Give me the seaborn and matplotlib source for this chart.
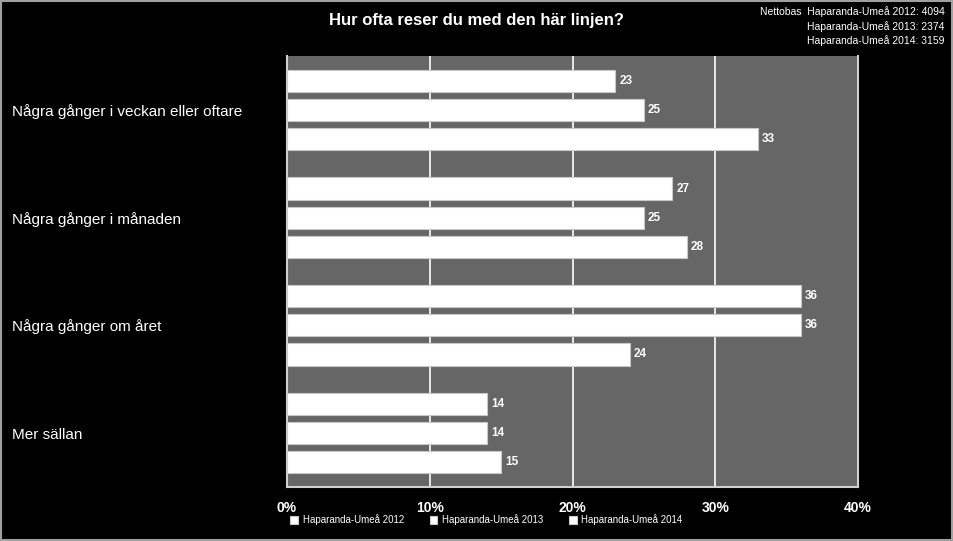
import matplotlib
matplotlib.use('Agg')
import matplotlib.pyplot as plt
import pandas as pd
import seaborn as sns
from matplotlib.patches import Rectangle

# Data
categories = ['Några gånger i veckan eller oftare', 'Några gånger i månaden',
              'Några gånger om året', 'Mer sällan']
series = ['Haparanda-Umeå 2012', 'Haparanda-Umeå 2013', 'Haparanda-Umeå 2014']
vals_2012 = [23, 27, 36, 14]
vals_2013 = [25, 25, 36, 14]
vals_2014 = [33, 28, 24, 15]
x_ticks = [0, 10, 20, 30, 40]
x_tick_labels = ['0%', '10%', '20%', '30%', '40%']
title = 'Hur ofta reser du med den här linjen?'
base_text = ('Nettobas  Haparanda-Umeå 2012: 4094\n'
             'Haparanda-Umeå 2013: 2374\n'
             'Haparanda-Umeå 2014: 3159')

df = pd.DataFrame({
    'category': categories * 3,
    'series': [s for s in series for _ in categories],
    'value': vals_2012 + vals_2013 + vals_2014,
})

sns.set_style('dark')
plt.rcParams['font.family'] = ['Liberation Sans', 'DejaVu Sans']

fig = plt.figure(figsize=(9.54, 5.41), dpi=100, facecolor='black')
ax = fig.add_axes([287 / 954, 54 / 541, 571 / 954, 431 / 541])
ax.set_facecolor('#666666')

sns.barplot(data=df, y='category', x='value', hue='series', orient='h',
            palette=['white'] * 3, width=0.81, gap=0.24,
            edgecolor='#c8c8c8', linewidth=0.8, ax=ax, zorder=3)

for c in ax.containers:
    ax.bar_label(c, fmt='%d', padding=3, color='white', fontsize=8.5,
                 fontweight='bold')

ax.set_xlim(0, 40)
ax.set_xticks(x_ticks)
ax.set_xticklabels(x_tick_labels, color='white', fontsize=10, fontweight='bold')
ax.xaxis.grid(True, color='white', linewidth=1.2, zorder=1)
ax.yaxis.grid(False)
ax.tick_params(axis='x', length=0, pad=10)
ax.tick_params(axis='y', length=0, pad=198)
for lbl in ax.get_yticklabels():
    lbl.set_ha('left')
    lbl.set_color('white')
    lbl.set_fontsize(11)
ax.set_xlabel('')
ax.set_ylabel('')
ax.spines['top'].set_visible(False)
for side in ['left', 'bottom', 'right']:
    ax.spines[side].set_visible(True)
    ax.spines[side].set_color('#d0d0d0')
    ax.spines[side].set_linewidth(1.5)

leg = ax.legend(loc='center left', bbox_to_anchor=(0.006, -0.076), ncol=3,
                frameon=False, fontsize=7, handlelength=0.8, handleheight=0.8,
                handletextpad=0.5, columnspacing=2.6, borderaxespad=0,
                borderpad=0)
for t in leg.get_texts():
    t.set_color('white')

fig.text(0.5, 0.962, title, ha='center', va='center', color='white',
         fontsize=12, fontweight='bold')
fig.text(0.99, 0.988, base_text, ha='right', va='top', color='white',
         fontsize=7.5, linespacing=1.4)

fig.patches.append(Rectangle((0.001, 0.002), 0.997, 0.996,
                             transform=fig.transFigure, fill=False,
                             edgecolor='#a0a0a0', linewidth=1.5))

plt.savefig('out.png', dpi=100, facecolor='black')
